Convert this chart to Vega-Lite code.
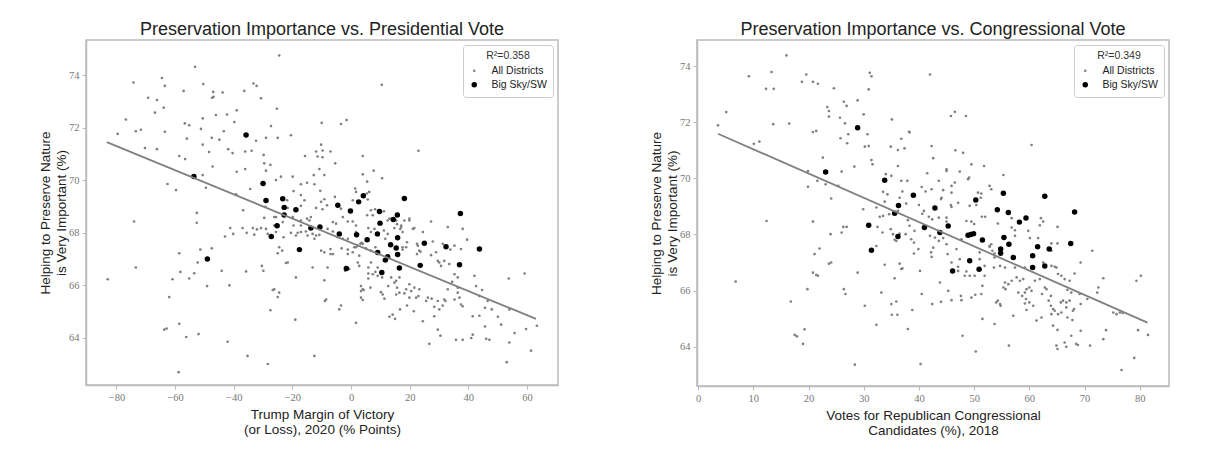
{
"$schema":"https://vega.github.io/schema/vega-lite/v6.json",
"background":"white",
"padding":{"left":37,"top":20,"right":5,"bottom":5},
"spacing":89,
"datasets":{
"pres":[
{"x":-24.5,"y":74.76,"g":"All Districts"},{"x":-53.2,"y":74.33,"g":"All Districts"},{"x":-74.2,"y":73.73,"g":"All Districts"},{"x":-64.5,"y":73.9,"g":"All Districts"},{"x":-63.5,"y":73.6,"g":"All Districts"},{"x":-50.4,"y":73.67,"g":"All Districts"},{"x":-33.3,"y":73.69,"g":"All Districts"},{"x":-32.2,"y":73.6,"g":"All Districts"},{"x":10.5,"y":73.64,"g":"All Districts"},{"x":-57.1,"y":73.41,"g":"All Districts"},{"x":-47,"y":73.37,"g":"All Districts"},{"x":-43.8,"y":73.35,"g":"All Districts"},{"x":-46.9,"y":73.18,"g":"All Districts"},{"x":-47.4,"y":73.15,"g":"All Districts"},{"x":-36.4,"y":73.41,"g":"All Districts"},{"x":-69.2,"y":73.15,"g":"All Districts"},{"x":-66.2,"y":73.06,"g":"All Districts"},{"x":-30.7,"y":73.13,"g":"All Districts"},{"x":-63.9,"y":72.77,"g":"All Districts"},{"x":-66.9,"y":72.58,"g":"All Districts"},{"x":-39,"y":72.67,"g":"All Districts"},{"x":-25.3,"y":72.73,"g":"All Districts"},{"x":-42.3,"y":72.51,"g":"All Districts"},{"x":-46.1,"y":72.49,"g":"All Districts"},{"x":-39.8,"y":72.22,"g":"All Districts"},{"x":-50.6,"y":72.36,"g":"All Districts"},{"x":-76.8,"y":72.32,"g":"All Districts"},{"x":-56.7,"y":72.17,"g":"All Districts"},{"x":-55.2,"y":72.1,"g":"All Districts"},{"x":-51.2,"y":71.96,"g":"All Districts"},{"x":-27.3,"y":72.07,"g":"All Districts"},{"x":-10,"y":72.19,"g":"All Districts"},{"x":-3.4,"y":72.15,"g":"All Districts"},{"x":-1.5,"y":72.3,"g":"All Districts"},{"x":-43.4,"y":71.87,"g":"All Districts"},{"x":-73.4,"y":71.87,"g":"All Districts"},{"x":-71.7,"y":71.93,"g":"All Districts"},{"x":-63.5,"y":71.85,"g":"All Districts"},{"x":-79.6,"y":71.77,"g":"All Districts"},{"x":-20.5,"y":71.72,"g":"All Districts"},{"x":-47.5,"y":71.62,"g":"All Districts"},{"x":-44.9,"y":71.55,"g":"All Districts"},{"x":-56,"y":71.59,"g":"All Districts"},{"x":-32.4,"y":71.51,"g":"All Districts"},{"x":-29,"y":71.62,"g":"All Districts"},{"x":-25,"y":71.62,"g":"All Districts"},{"x":-50.6,"y":71.36,"g":"All Districts"},{"x":-70.3,"y":71.23,"g":"All Districts"},{"x":-66.2,"y":71.19,"g":"All Districts"},{"x":-41.9,"y":71.19,"g":"All Districts"},{"x":-36.1,"y":71.1,"g":"All Districts"},{"x":-33.9,"y":71.13,"g":"All Districts"},{"x":-48.4,"y":71.08,"g":"All Districts"},{"x":-40.4,"y":71.04,"g":"All Districts"},{"x":-29.8,"y":70.97,"g":"All Districts"},{"x":-58.6,"y":70.93,"g":"All Districts"},{"x":-56.6,"y":70.81,"g":"All Districts"},{"x":23,"y":71.13,"g":"All Districts"},{"x":-10.2,"y":71.36,"g":"All Districts"},{"x":-11.9,"y":71.1,"g":"All Districts"},{"x":-9.7,"y":71.14,"g":"All Districts"},{"x":-7,"y":71.1,"g":"All Districts"},{"x":-11.4,"y":70.91,"g":"All Districts"},{"x":-9.7,"y":70.88,"g":"All Districts"},{"x":-15.7,"y":70.93,"g":"All Districts"},{"x":4,"y":70.93,"g":"All Districts"},{"x":-5.4,"y":70.65,"g":"All Districts"},{"x":-10.8,"y":70.43,"g":"All Districts"},{"x":-12.7,"y":70.2,"g":"All Districts"},{"x":-9.1,"y":70.2,"g":"All Districts"},{"x":4,"y":70.23,"g":"All Districts"},{"x":7.7,"y":70.37,"g":"All Districts"},{"x":10.6,"y":70.08,"g":"All Districts"},{"x":-15,"y":69.91,"g":"All Districts"},{"x":-12.5,"y":69.85,"g":"All Districts"},{"x":5.5,"y":69.95,"g":"All Districts"},{"x":-19.9,"y":70.14,"g":"All Districts"},{"x":-23.9,"y":70.14,"g":"All Districts"},{"x":-29.6,"y":70.65,"g":"All Districts"},{"x":-27.5,"y":70.59,"g":"All Districts"},{"x":-47.2,"y":70.53,"g":"All Districts"},{"x":-36.1,"y":70.43,"g":"All Districts"},{"x":-39,"y":70.33,"g":"All Districts"},{"x":-29,"y":70.37,"g":"All Districts"},{"x":-25.6,"y":70.01,"g":"All Districts"},{"x":-50.6,"y":70.2,"g":"All Districts"},{"x":-62.6,"y":69.86,"g":"All Districts"},{"x":-59.7,"y":69.63,"g":"All Districts"},{"x":-49.5,"y":69.72,"g":"All Districts"},{"x":-34.4,"y":69.67,"g":"All Districts"},{"x":-39.2,"y":69.47,"g":"All Districts"},{"x":-19.6,"y":69.59,"g":"All Districts"},{"x":-10.5,"y":69.6,"g":"All Districts"},{"x":1.4,"y":69.69,"g":"All Districts"},{"x":-17.1,"y":69.44,"g":"All Districts"},{"x":-21.8,"y":69.24,"g":"All Districts"},{"x":-5.5,"y":69.37,"g":"All Districts"},{"x":0.6,"y":69.24,"g":"All Districts"},{"x":6.2,"y":69.56,"g":"All Districts"},{"x":5.4,"y":69.5,"g":"All Districts"},{"x":-15.9,"y":69.24,"g":"All Districts"},{"x":-10.2,"y":69.18,"g":"All Districts"},{"x":-9.1,"y":69.28,"g":"All Districts"},{"x":-11.9,"y":68.95,"g":"All Districts"},{"x":-9.7,"y":68.9,"g":"All Districts"},{"x":-17.1,"y":69.03,"g":"All Districts"},{"x":-21.6,"y":68.95,"g":"All Districts"},{"x":6.8,"y":68.86,"g":"All Districts"},{"x":8.2,"y":68.9,"g":"All Districts"},{"x":5.5,"y":68.67,"g":"All Districts"},{"x":13.1,"y":68.54,"g":"All Districts"},{"x":15.4,"y":68.47,"g":"All Districts"},{"x":19.9,"y":68.54,"g":"All Districts"},{"x":27.3,"y":68.43,"g":"All Districts"},{"x":-2.8,"y":68.6,"g":"All Districts"},{"x":-1.1,"y":68.43,"g":"All Districts"},{"x":0.6,"y":68.43,"g":"All Districts"},{"x":1.7,"y":68.28,"g":"All Districts"},{"x":-15,"y":68.54,"g":"All Districts"},{"x":-13.7,"y":68.6,"g":"All Districts"},{"x":-6.2,"y":68.41,"g":"All Districts"},{"x":-5.1,"y":68.35,"g":"All Districts"},{"x":17.1,"y":68.28,"g":"All Districts"},{"x":21.6,"y":68.18,"g":"All Districts"},{"x":-52.6,"y":68.76,"g":"All Districts"},{"x":-36.8,"y":68.86,"g":"All Districts"},{"x":-29.2,"y":68.99,"g":"All Districts"},{"x":-26.2,"y":68.6,"g":"All Districts"},{"x":-74,"y":68.43,"g":"All Districts"},{"x":-52.6,"y":68.38,"g":"All Districts"},{"x":-41.2,"y":68.18,"g":"All Districts"},{"x":-37,"y":68.18,"g":"All Districts"},{"x":-33.5,"y":68.18,"g":"All Districts"},{"x":-32.1,"y":68.13,"g":"All Districts"},{"x":-19.6,"y":68.28,"g":"All Districts"},{"x":-43,"y":67.86,"g":"All Districts"},{"x":-40.2,"y":67.96,"g":"All Districts"},{"x":-35.6,"y":68.0,"g":"All Districts"},{"x":-33,"y":67.93,"g":"All Districts"},{"x":-23.3,"y":68.41,"g":"All Districts"},{"x":-25.6,"y":68.03,"g":"All Districts"},{"x":-28.4,"y":67.96,"g":"All Districts"},{"x":-23,"y":67.83,"g":"All Districts"},{"x":-20.5,"y":68.0,"g":"All Districts"},{"x":-18.2,"y":68.0,"g":"All Districts"},{"x":-58.6,"y":67.22,"g":"All Districts"},{"x":-51.4,"y":67.36,"g":"All Districts"},{"x":-47.5,"y":67.41,"g":"All Districts"},{"x":-52.3,"y":66.87,"g":"All Districts"},{"x":-73.4,"y":66.68,"g":"All Districts"},{"x":-58.2,"y":66.51,"g":"All Districts"},{"x":-53.5,"y":66.46,"g":"All Districts"},{"x":-55.2,"y":66.26,"g":"All Districts"},{"x":-60.9,"y":66.23,"g":"All Districts"},{"x":-83,"y":66.23,"g":"All Districts"},{"x":-44.1,"y":66.55,"g":"All Districts"},{"x":-35.8,"y":66.53,"g":"All Districts"},{"x":-30.4,"y":66.74,"g":"All Districts"},{"x":-29.9,"y":66.55,"g":"All Districts"},{"x":-25,"y":67.22,"g":"All Districts"},{"x":-23.5,"y":67.32,"g":"All Districts"},{"x":-22.2,"y":66.85,"g":"All Districts"},{"x":-21.6,"y":66.87,"g":"All Districts"},{"x":-18.8,"y":66.3,"g":"All Districts"},{"x":-49.1,"y":65.97,"g":"All Districts"},{"x":-41.5,"y":66.0,"g":"All Districts"},{"x":-26.7,"y":65.82,"g":"All Districts"},{"x":-26.2,"y":65.85,"g":"All Districts"},{"x":-24.5,"y":65.72,"g":"All Districts"},{"x":-25,"y":65.55,"g":"All Districts"},{"x":-62,"y":65.55,"g":"All Districts"},{"x":-27.5,"y":65.05,"g":"All Districts"},{"x":-19,"y":64.69,"g":"All Districts"},{"x":-63.7,"y":64.31,"g":"All Districts"},{"x":-62.9,"y":64.35,"g":"All Districts"},{"x":-58.6,"y":64.53,"g":"All Districts"},{"x":-56.2,"y":64.03,"g":"All Districts"},{"x":-52,"y":64.14,"g":"All Districts"},{"x":-42.1,"y":63.85,"g":"All Districts"},{"x":-35.3,"y":63.31,"g":"All Districts"},{"x":-28.4,"y":63.0,"g":"All Districts"},{"x":-58.8,"y":62.69,"g":"All Districts"},
{"x":-17.1,"y":68.28,"g":"All Districts"},{"x":-14.2,"y":68.47,"g":"All Districts"},{"x":-15.4,"y":68.05,"g":"All Districts"},{"x":-14.8,"y":67.9,"g":"All Districts"},{"x":-8,"y":68.15,"g":"All Districts"},{"x":-6.2,"y":68.05,"g":"All Districts"},{"x":-4.5,"y":67.83,"g":"All Districts"},{"x":-2.8,"y":67.77,"g":"All Districts"},{"x":-1.1,"y":67.77,"g":"All Districts"},{"x":1.7,"y":68.03,"g":"All Districts"},{"x":-7,"y":67.38,"g":"All Districts"},{"x":-7,"y":67.19,"g":"All Districts"},{"x":-3.2,"y":67.41,"g":"All Districts"},{"x":-1.1,"y":67.36,"g":"All Districts"},{"x":0.6,"y":67.26,"g":"All Districts"},{"x":1.7,"y":67.45,"g":"All Districts"},{"x":3.2,"y":67.58,"g":"All Districts"},{"x":3.6,"y":67.62,"g":"All Districts"},{"x":4,"y":67.58,"g":"All Districts"},{"x":5.9,"y":68.18,"g":"All Districts"},{"x":6.8,"y":68.03,"g":"All Districts"},{"x":8,"y":68.15,"g":"All Districts"},{"x":11.2,"y":68.09,"g":"All Districts"},{"x":12.5,"y":67.96,"g":"All Districts"},{"x":11.7,"y":67.77,"g":"All Districts"},{"x":17.1,"y":68.22,"g":"All Districts"},{"x":17.6,"y":68.03,"g":"All Districts"},{"x":19.1,"y":67.64,"g":"All Districts"},{"x":18.8,"y":67.45,"g":"All Districts"},{"x":19.9,"y":68.47,"g":"All Districts"},{"x":21.1,"y":68.15,"g":"All Districts"},{"x":22.5,"y":67.58,"g":"All Districts"},{"x":23.3,"y":67.32,"g":"All Districts"},{"x":23.7,"y":67.28,"g":"All Districts"},{"x":27.3,"y":67.15,"g":"All Districts"},{"x":29,"y":67.26,"g":"All Districts"},{"x":30.1,"y":66.87,"g":"All Districts"},{"x":31.8,"y":66.93,"g":"All Districts"},{"x":31.3,"y":67.58,"g":"All Districts"},{"x":35.3,"y":67.51,"g":"All Districts"},{"x":37.5,"y":67.38,"g":"All Districts"},{"x":33.5,"y":66.81,"g":"All Districts"},{"x":35.3,"y":66.42,"g":"All Districts"},{"x":34.5,"y":66.13,"g":"All Districts"},{"x":33,"y":65.85,"g":"All Districts"},{"x":36.4,"y":66.3,"g":"All Districts"},{"x":36.4,"y":65.91,"g":"All Districts"},{"x":36.4,"y":65.72,"g":"All Districts"},{"x":37.5,"y":65.27,"g":"All Districts"},{"x":38.1,"y":65.2,"g":"All Districts"},{"x":37,"y":65.53,"g":"All Districts"},{"x":35.3,"y":65.46,"g":"All Districts"},{"x":42.1,"y":66.36,"g":"All Districts"},{"x":42.7,"y":65.97,"g":"All Districts"},{"x":44.7,"y":65.82,"g":"All Districts"},{"x":43.8,"y":65.59,"g":"All Districts"},{"x":46.6,"y":65.4,"g":"All Districts"},{"x":45.7,"y":65.14,"g":"All Districts"},{"x":48,"y":65.08,"g":"All Districts"},{"x":41.5,"y":64.82,"g":"All Districts"},{"x":43.8,"y":64.84,"g":"All Districts"},{"x":50.1,"y":64.8,"g":"All Districts"},{"x":41.5,"y":64.12,"g":"All Districts"},{"x":41,"y":63.99,"g":"All Districts"},{"x":45.7,"y":64.43,"g":"All Districts"},{"x":47.2,"y":63.92,"g":"All Districts"},{"x":46.1,"y":63.96,"g":"All Districts"},{"x":38.1,"y":63.92,"g":"All Districts"},{"x":35.8,"y":63.92,"g":"All Districts"},{"x":51.2,"y":64.5,"g":"All Districts"},{"x":54,"y":65.08,"g":"All Districts"},{"x":55.8,"y":64.18,"g":"All Districts"},{"x":59.7,"y":64.33,"g":"All Districts"},{"x":53.8,"y":66.26,"g":"All Districts"},{"x":59.2,"y":66.45,"g":"All Districts"},{"x":54,"y":63.82,"g":"All Districts"},{"x":61.4,"y":63.51,"g":"All Districts"},{"x":53.1,"y":63.07,"g":"All Districts"},{"x":63.4,"y":64.46,"g":"All Districts"},{"x":29.6,"y":64.31,"g":"All Districts"},{"x":30.5,"y":64.08,"g":"All Districts"},{"x":26.7,"y":63.77,"g":"All Districts"},{"x":24.5,"y":64.63,"g":"All Districts"},{"x":28.4,"y":64.82,"g":"All Districts"},{"x":32.2,"y":65.4,"g":"All Districts"},{"x":31.3,"y":65.23,"g":"All Districts"},{"x":29.6,"y":65.4,"g":"All Districts"},{"x":30.1,"y":65.08,"g":"All Districts"},{"x":28.4,"y":65.18,"g":"All Districts"},{"x":31.8,"y":65.46,"g":"All Districts"},{"x":27.5,"y":65.49,"g":"All Districts"},{"x":25.6,"y":65.4,"g":"All Districts"},{"x":26.2,"y":65.53,"g":"All Districts"},{"x":23.3,"y":65.85,"g":"All Districts"},{"x":23,"y":65.59,"g":"All Districts"},{"x":19.9,"y":66.04,"g":"All Districts"},{"x":20.5,"y":65.78,"g":"All Districts"},{"x":22.2,"y":65.53,"g":"All Districts"},{"x":21.6,"y":65.91,"g":"All Districts"},{"x":19.1,"y":65.23,"g":"All Districts"},{"x":21.4,"y":65.01,"g":"All Districts"},{"x":16.7,"y":65.08,"g":"All Districts"},{"x":14.2,"y":64.88,"g":"All Districts"},{"x":15,"y":64.72,"g":"All Districts"},{"x":13.1,"y":64.8,"g":"All Districts"},{"x":18.8,"y":65.85,"g":"All Districts"},{"x":18.2,"y":65.69,"g":"All Districts"},{"x":19.9,"y":65.53,"g":"All Districts"},{"x":14.8,"y":66.1,"g":"All Districts"},{"x":15.7,"y":65.91,"g":"All Districts"},{"x":16.5,"y":65.72,"g":"All Districts"},{"x":15.4,"y":65.65,"g":"All Districts"},{"x":10.2,"y":65.74,"g":"All Districts"},{"x":10.8,"y":65.65,"g":"All Districts"},{"x":11.4,"y":65.49,"g":"All Districts"},{"x":12.7,"y":65.97,"g":"All Districts"},{"x":13.7,"y":66.3,"g":"All Districts"},{"x":15.4,"y":66.17,"g":"All Districts"},{"x":16.5,"y":66.3,"g":"All Districts"},{"x":8.3,"y":66.51,"g":"All Districts"},{"x":9.1,"y":66.36,"g":"All Districts"},{"x":7.4,"y":66.42,"g":"All Districts"},{"x":10.6,"y":66.3,"g":"All Districts"},{"x":5.9,"y":66.45,"g":"All Districts"},{"x":5.9,"y":66.26,"g":"All Districts"},{"x":3.4,"y":65.97,"g":"All Districts"},{"x":4,"y":65.85,"g":"All Districts"},{"x":3.4,"y":65.78,"g":"All Districts"},{"x":3.4,"y":65.53,"g":"All Districts"},{"x":4,"y":65.44,"g":"All Districts"},{"x":6.6,"y":65.91,"g":"All Districts"},{"x":4.3,"y":65.82,"g":"All Districts"},{"x":1.7,"y":64.57,"g":"All Districts"},{"x":-8.5,"y":65.46,"g":"All Districts"},{"x":-8.9,"y":65.4,"g":"All Districts"},{"x":-4,"y":65.08,"g":"All Districts"},{"x":-3.4,"y":65.23,"g":"All Districts"},{"x":-9.1,"y":66.19,"g":"All Districts"},{"x":-13.1,"y":66.68,"g":"All Districts"},{"x":-12.5,"y":63.31,"g":"All Districts"},{"x":-2,"y":66.55,"g":"All Districts"},{"x":-0.6,"y":66.62,"g":"All Districts"},{"x":2.3,"y":66.87,"g":"All Districts"},{"x":2.8,"y":66.74,"g":"All Districts"},{"x":5.9,"y":66.68,"g":"All Districts"},{"x":6.8,"y":66.87,"g":"All Districts"},{"x":-9.1,"y":67.26,"g":"All Districts"},{"x":-10.2,"y":67.32,"g":"All Districts"},{"x":-12.5,"y":67.77,"g":"All Districts"},{"x":-10.8,"y":67.92,"g":"All Districts"},{"x":33,"y":68.22,"g":"All Districts"},{"x":38.1,"y":68.15,"g":"All Districts"},{"x":39.6,"y":67.74,"g":"All Districts"},
{"x":-17.1,"y":69.85,"g":"All Districts"},{"x":-8.2,"y":69.05,"g":"All Districts"},{"x":-3.4,"y":68.92,"g":"All Districts"},{"x":1.7,"y":69.56,"g":"All Districts"},{"x":5.7,"y":69.27,"g":"All Districts"},{"x":7.4,"y":68.67,"g":"All Districts"},{"x":11.2,"y":68.82,"g":"All Districts"},{"x":12.5,"y":68.47,"g":"All Districts"},{"x":14.8,"y":68.18,"g":"All Districts"},{"x":18.2,"y":68.47,"g":"All Districts"},{"x":16.8,"y":68.15,"g":"All Districts"},{"x":15.7,"y":68.33,"g":"All Districts"},{"x":24.5,"y":68.03,"g":"All Districts"},{"x":22.8,"y":67.51,"g":"All Districts"},{"x":22.5,"y":67.19,"g":"All Districts"},{"x":17.6,"y":67.45,"g":"All Districts"},{"x":17.6,"y":67.36,"g":"All Districts"},{"x":27.9,"y":67.67,"g":"All Districts"},{"x":33.9,"y":67.36,"g":"All Districts"},{"x":29.6,"y":66.93,"g":"All Districts"},{"x":30.7,"y":66.74,"g":"All Districts"},{"x":2.3,"y":67.51,"g":"All Districts"},{"x":1.1,"y":67.45,"g":"All Districts"},{"x":2.8,"y":67.13,"g":"All Districts"},{"x":-6.2,"y":67.19,"g":"All Districts"},{"x":-1.1,"y":67.19,"g":"All Districts"},{"x":5.1,"y":67.41,"g":"All Districts"},{"x":6.8,"y":67.32,"g":"All Districts"},{"x":8.3,"y":67.45,"g":"All Districts"},{"x":-8,"y":66.68,"g":"All Districts"},{"x":9.1,"y":66.68,"g":"All Districts"},{"x":-24.5,"y":67.45,"g":"All Districts"},{"x":-29.6,"y":68.57,"g":"All Districts"},{"x":-25.6,"y":68.6,"g":"All Districts"},{"x":-26.2,"y":68.28,"g":"All Districts"},{"x":-29,"y":68.15,"g":"All Districts"},{"x":-30.7,"y":68.18,"g":"All Districts"},{"x":-18.8,"y":67.9,"g":"All Districts"},{"x":-17.1,"y":68.03,"g":"All Districts"},{"x":-13.1,"y":67.96,"g":"All Districts"},{"x":-11.9,"y":67.9,"g":"All Districts"},{"x":-19.9,"y":68.6,"g":"All Districts"},{"x":-17.1,"y":68.47,"g":"All Districts"},
{"x":-53.6,"y":70.15,"g":"Big Sky/SW"},{"x":-49,"y":67.0,"g":"Big Sky/SW"},{"x":-35.8,"y":71.73,"g":"Big Sky/SW"},{"x":-30,"y":69.88,"g":"Big Sky/SW"},{"x":-29,"y":69.23,"g":"Big Sky/SW"},{"x":-27.2,"y":67.86,"g":"Big Sky/SW"},{"x":-25.2,"y":68.27,"g":"Big Sky/SW"},{"x":-23.3,"y":69.3,"g":"Big Sky/SW"},{"x":-22.8,"y":68.97,"g":"Big Sky/SW"},{"x":-22.8,"y":68.68,"g":"Big Sky/SW"},{"x":-18.8,"y":68.88,"g":"Big Sky/SW"},{"x":-17.6,"y":67.36,"g":"Big Sky/SW"},{"x":-13.7,"y":68.18,"g":"Big Sky/SW"},{"x":-10.6,"y":68.22,"g":"Big Sky/SW"},{"x":-4.5,"y":69.05,"g":"Big Sky/SW"},{"x":-4,"y":67.96,"g":"Big Sky/SW"},{"x":-1.6,"y":66.64,"g":"Big Sky/SW"},{"x":-0.2,"y":68.83,"g":"Big Sky/SW"},{"x":1.9,"y":67.93,"g":"Big Sky/SW"},{"x":2.6,"y":69.18,"g":"Big Sky/SW"},{"x":4.2,"y":69.41,"g":"Big Sky/SW"},{"x":5.5,"y":67.74,"g":"Big Sky/SW"},{"x":9,"y":67.96,"g":"Big Sky/SW"},{"x":9.1,"y":67.25,"g":"Big Sky/SW"},{"x":9.7,"y":68.81,"g":"Big Sky/SW"},{"x":9.9,"y":68.37,"g":"Big Sky/SW"},{"x":10.5,"y":66.49,"g":"Big Sky/SW"},{"x":11.7,"y":66.96,"g":"Big Sky/SW"},{"x":12.5,"y":67.09,"g":"Big Sky/SW"},{"x":13.5,"y":67.55,"g":"Big Sky/SW"},{"x":14.4,"y":68.51,"g":"Big Sky/SW"},{"x":15.4,"y":67.42,"g":"Big Sky/SW"},{"x":15.8,"y":68.68,"g":"Big Sky/SW"},{"x":15.9,"y":67.81,"g":"Big Sky/SW"},{"x":15.9,"y":67.17,"g":"Big Sky/SW"},{"x":16.5,"y":66.66,"g":"Big Sky/SW"},{"x":18.2,"y":69.31,"g":"Big Sky/SW"},{"x":23.6,"y":66.76,"g":"Big Sky/SW"},{"x":25,"y":67.6,"g":"Big Sky/SW"},{"x":32.4,"y":67.47,"g":"Big Sky/SW"},{"x":37,"y":66.78,"g":"Big Sky/SW"},{"x":37.3,"y":68.74,"g":"Big Sky/SW"},{"x":43.8,"y":67.38,"g":"Big Sky/SW"}
],
"presLine":[{"x":-83.3,"y":71.46},{"x":63.1,"y":64.72}],
"cong":[
{"x":16,"y":74.38,"g":"All Districts"},{"x":9.2,"y":73.64,"g":"All Districts"},{"x":13.3,"y":73.79,"g":"All Districts"},{"x":12.3,"y":73.19,"g":"All Districts"},{"x":13.7,"y":73.19,"g":"All Districts"},{"x":18.8,"y":73.44,"g":"All Districts"},{"x":19.6,"y":73.7,"g":"All Districts"},{"x":20.8,"y":73.44,"g":"All Districts"},{"x":21.7,"y":73.37,"g":"All Districts"},{"x":24.6,"y":73.21,"g":"All Districts"},{"x":31.1,"y":73.76,"g":"All Districts"},{"x":31.4,"y":73.64,"g":"All Districts"},{"x":30.9,"y":73.17,"g":"All Districts"},{"x":28.9,"y":72.78,"g":"All Districts"},{"x":26.4,"y":72.73,"g":"All Districts"},{"x":26.9,"y":72.58,"g":"All Districts"},{"x":23.4,"y":72.54,"g":"All Districts"},{"x":23.7,"y":72.4,"g":"All Districts"},{"x":23.7,"y":72.2,"g":"All Districts"},{"x":30,"y":72.28,"g":"All Districts"},{"x":25.7,"y":72.16,"g":"All Districts"},{"x":3.6,"y":71.89,"g":"All Districts"},{"x":5.1,"y":72.36,"g":"All Districts"},{"x":13.6,"y":71.93,"g":"All Districts"},{"x":16.5,"y":71.95,"g":"All Districts"},{"x":26.6,"y":71.96,"g":"All Districts"},{"x":20.8,"y":71.65,"g":"All Districts"},{"x":21.4,"y":71.69,"g":"All Districts"},{"x":30.7,"y":71.57,"g":"All Districts"},{"x":25.8,"y":71.43,"g":"All Districts"},{"x":27,"y":71.25,"g":"All Districts"},{"x":30.2,"y":71.13,"g":"All Districts"},{"x":30.9,"y":71.15,"g":"All Districts"},{"x":34.9,"y":71.13,"g":"All Districts"},{"x":35.1,"y":72.1,"g":"All Districts"},{"x":36.8,"y":71.41,"g":"All Districts"},{"x":10.1,"y":71.23,"g":"All Districts"},{"x":11.1,"y":71.31,"g":"All Districts"},{"x":22.6,"y":70.74,"g":"All Districts"},{"x":31.4,"y":70.65,"g":"All Districts"},{"x":31.6,"y":70.5,"g":"All Districts"},{"x":28.3,"y":70.42,"g":"All Districts"},{"x":19.9,"y":70.26,"g":"All Districts"},{"x":26,"y":70.24,"g":"All Districts"},{"x":21.6,"y":69.91,"g":"All Districts"},{"x":23.1,"y":69.79,"g":"All Districts"},{"x":19.9,"y":69.7,"g":"All Districts"},{"x":25.4,"y":69.73,"g":"All Districts"},{"x":34,"y":70.15,"g":"All Districts"},{"x":35,"y":70.09,"g":"All Districts"},{"x":24.1,"y":69.28,"g":"All Districts"},{"x":33.5,"y":69.52,"g":"All Districts"},{"x":34.3,"y":69.43,"g":"All Districts"},{"x":36.8,"y":69.91,"g":"All Districts"},{"x":29.9,"y":68.9,"g":"All Districts"},{"x":32.3,"y":68.96,"g":"All Districts"},{"x":34.6,"y":68.72,"g":"All Districts"},{"x":36.5,"y":69.31,"g":"All Districts"},{"x":37,"y":69.53,"g":"All Districts"},{"x":12.4,"y":68.48,"g":"All Districts"},{"x":20.8,"y":68.46,"g":"All Districts"},{"x":26.3,"y":68.27,"g":"All Districts"},{"x":26.9,"y":68.27,"g":"All Districts"},{"x":32.5,"y":68.27,"g":"All Districts"},{"x":34.9,"y":68.19,"g":"All Districts"},{"x":33.4,"y":68.07,"g":"All Districts"},{"x":35.3,"y":68.01,"g":"All Districts"},{"x":35.6,"y":67.81,"g":"All Districts"},{"x":36.5,"y":68.03,"g":"All Districts"},{"x":24,"y":68.01,"g":"All Districts"},{"x":26,"y":68.07,"g":"All Districts"},{"x":21.1,"y":67.3,"g":"All Districts"},{"x":22,"y":67.5,"g":"All Districts"},{"x":23.7,"y":66.96,"g":"All Districts"},{"x":28.9,"y":66.64,"g":"All Districts"},{"x":33.8,"y":66.92,"g":"All Districts"},{"x":36.5,"y":66.96,"g":"All Districts"},{"x":37,"y":66.79,"g":"All Districts"},{"x":20.8,"y":66.64,"g":"All Districts"},{"x":21.4,"y":66.56,"g":"All Districts"},{"x":21.7,"y":66.53,"g":"All Districts"},{"x":26.4,"y":66.05,"g":"All Districts"},{"x":26.7,"y":65.88,"g":"All Districts"},{"x":19.8,"y":66.05,"g":"All Districts"},{"x":33.2,"y":65.93,"g":"All Districts"},{"x":35.6,"y":66.44,"g":"All Districts"},{"x":16.8,"y":65.61,"g":"All Districts"},{"x":35.9,"y":65.61,"g":"All Districts"},{"x":35,"y":65.52,"g":"All Districts"},{"x":30.2,"y":65.46,"g":"All Districts"},{"x":35.1,"y":65.14,"g":"All Districts"},{"x":36.1,"y":65.14,"g":"All Districts"},{"x":17.5,"y":64.42,"g":"All Districts"},{"x":17.9,"y":64.37,"g":"All Districts"},{"x":19.3,"y":64.62,"g":"All Districts"},{"x":19,"y":64.1,"g":"All Districts"},{"x":32.3,"y":64.78,"g":"All Districts"},{"x":38,"y":64.63,"g":"All Districts"},{"x":6.8,"y":66.32,"g":"All Districts"},{"x":28.4,"y":63.36,"g":"All Districts"},{"x":27.2,"y":71.57,"g":"All Districts"},{"x":36.2,"y":71.01,"g":"All Districts"},{"x":37.4,"y":71.07,"g":"All Districts"},{"x":38.3,"y":71.64,"g":"All Districts"},{"x":42.3,"y":71.15,"g":"All Districts"},{"x":42.6,"y":70.72,"g":"All Districts"},{"x":46.6,"y":71.0,"g":"All Districts"},{"x":48,"y":70.91,"g":"All Districts"},{"x":49.5,"y":70.5,"g":"All Districts"},{"x":51.8,"y":70.44,"g":"All Districts"},{"x":60.4,"y":71.19,"g":"All Districts"},{"x":45,"y":70.26,"g":"All Districts"},{"x":47.4,"y":70.24,"g":"All Districts"},{"x":41.5,"y":70.18,"g":"All Districts"},{"x":36.2,"y":70.44,"g":"All Districts"},{"x":37.9,"y":69.91,"g":"All Districts"},{"x":43.6,"y":69.91,"g":"All Districts"},{"x":46.5,"y":69.85,"g":"All Districts"},{"x":48.9,"y":69.97,"g":"All Districts"},{"x":53.1,"y":69.61,"g":"All Districts"},{"x":52.8,"y":69.73,"g":"All Districts"},{"x":55.3,"y":70.12,"g":"All Districts"},{"x":50.7,"y":69.49,"g":"All Districts"},{"x":51.3,"y":69.46,"g":"All Districts"},{"x":51.2,"y":69.31,"g":"All Districts"},{"x":45.9,"y":69.73,"g":"All Districts"},{"x":44.4,"y":69.58,"g":"All Districts"},{"x":40.5,"y":69.69,"g":"All Districts"},{"x":41.2,"y":69.53,"g":"All Districts"},{"x":42.3,"y":69.61,"g":"All Districts"},{"x":33.8,"y":69.17,"g":"All Districts"},{"x":37.7,"y":69.1,"g":"All Districts"},{"x":36.2,"y":68.84,"g":"All Districts"},{"x":40,"y":69.05,"g":"All Districts"},{"x":40.9,"y":68.84,"g":"All Districts"},{"x":40.6,"y":68.74,"g":"All Districts"},{"x":44.1,"y":69.31,"g":"All Districts"},{"x":44,"y":69.26,"g":"All Districts"},{"x":45.8,"y":69.05,"g":"All Districts"},{"x":47.1,"y":69.13,"g":"All Districts"},{"x":32.9,"y":68.63,"g":"All Districts"},{"x":33.5,"y":68.66,"g":"All Districts"},{"x":38,"y":68.51,"g":"All Districts"},{"x":41.8,"y":68.63,"g":"All Districts"},{"x":42.4,"y":68.54,"g":"All Districts"},{"x":43.6,"y":68.6,"g":"All Districts"},{"x":45,"y":68.6,"g":"All Districts"},{"x":45,"y":68.46,"g":"All Districts"},{"x":48.6,"y":68.48,"g":"All Districts"},{"x":49.5,"y":68.46,"g":"All Districts"},{"x":50,"y":68.37,"g":"All Districts"},{"x":51.4,"y":68.63,"g":"All Districts"},{"x":52,"y":68.63,"g":"All Districts"},{"x":54.3,"y":68.39,"g":"All Districts"},{"x":56.8,"y":68.58,"g":"All Districts"},{"x":62.1,"y":68.58,"g":"All Districts"},{"x":62.5,"y":68.46,"g":"All Districts"},{"x":61.9,"y":68.33,"g":"All Districts"},{"x":57.4,"y":68.15,"g":"All Districts"},{"x":59.8,"y":68.13,"g":"All Districts"},{"x":65.1,"y":68.27,"g":"All Districts"},{"x":38.3,"y":68.31,"g":"All Districts"},{"x":39.2,"y":68.13,"g":"All Districts"},{"x":37.6,"y":68.01,"g":"All Districts"},{"x":42,"y":67.95,"g":"All Districts"},{"x":42.9,"y":67.89,"g":"All Districts"},{"x":43.6,"y":67.77,"g":"All Districts"},{"x":44.4,"y":67.87,"g":"All Districts"},{"x":39.1,"y":67.71,"g":"All Districts"},{"x":39.9,"y":67.48,"g":"All Districts"},{"x":42.6,"y":67.53,"g":"All Districts"},{"x":42.3,"y":67.2,"g":"All Districts"},{"x":42.2,"y":67.36,"g":"All Districts"},{"x":45,"y":67.65,"g":"All Districts"},{"x":46.8,"y":67.48,"g":"All Districts"},{"x":45.2,"y":67.3,"g":"All Districts"},{"x":47.7,"y":67.83,"g":"All Districts"},{"x":51,"y":67.36,"g":"All Districts"},{"x":51,"y":67.12,"g":"All Districts"},{"x":52.8,"y":67.59,"g":"All Districts"},{"x":53.1,"y":67.65,"g":"All Districts"},{"x":53.3,"y":67.42,"g":"All Districts"},{"x":53.7,"y":67.32,"g":"All Districts"},{"x":60.1,"y":67.87,"g":"All Districts"},{"x":61.6,"y":67.87,"g":"All Districts"},{"x":64,"y":67.68,"g":"All Districts"},{"x":65.1,"y":67.68,"g":"All Districts"},{"x":64,"y":67.42,"g":"All Districts"},{"x":62.5,"y":67.0,"g":"All Districts"},{"x":64.6,"y":66.85,"g":"All Districts"},{"x":57.4,"y":66.82,"g":"All Districts"},{"x":59.2,"y":66.82,"g":"All Districts"},{"x":55.6,"y":66.82,"g":"All Districts"},{"x":54.7,"y":66.88,"g":"All Districts"},{"x":47.4,"y":67.12,"g":"All Districts"},{"x":47.1,"y":66.85,"g":"All Districts"},{"x":36.8,"y":66.77,"g":"All Districts"},{"x":39.1,"y":67.32,"g":"All Districts"},{"x":35.9,"y":67.77,"g":"All Districts"},{"x":36.2,"y":67.89,"g":"All Districts"},{"x":32.3,"y":67.59,"g":"All Districts"},{"x":24.1,"y":67.0,"g":"All Districts"},{"x":38.6,"y":67.83,"g":"All Districts"},{"x":40.2,"y":66.7,"g":"All Districts"},{"x":40.5,"y":65.88,"g":"All Districts"},{"x":38.8,"y":65.31,"g":"All Districts"},{"x":40.3,"y":63.38,"g":"All Districts"},{"x":43.8,"y":66.29,"g":"All Districts"},{"x":42.4,"y":65.52,"g":"All Districts"},{"x":44,"y":65.6,"g":"All Districts"},{"x":45.3,"y":65.99,"g":"All Districts"},{"x":45.9,"y":65.66,"g":"All Districts"},{"x":47.6,"y":65.81,"g":"All Districts"},{"x":47.7,"y":65.66,"g":"All Districts"},{"x":45.9,"y":67.0,"g":"All Districts"},{"x":47.1,"y":66.7,"g":"All Districts"},{"x":48.3,"y":66.53,"g":"All Districts"},{"x":48.6,"y":66.68,"g":"All Districts"},{"x":49.2,"y":66.53,"g":"All Districts"},{"x":50.1,"y":66.53,"g":"All Districts"},{"x":49.5,"y":65.75,"g":"All Districts"},{"x":50.2,"y":65.85,"g":"All Districts"},{"x":51.3,"y":65.88,"g":"All Districts"},{"x":51.5,"y":66.17,"g":"All Districts"},{"x":47.9,"y":64.39,"g":"All Districts"},{"x":51.5,"y":64.99,"g":"All Districts"},{"x":50.3,"y":63.83,"g":"All Districts"},{"x":51.9,"y":66.53,"g":"All Districts"},{"x":51.9,"y":66.88,"g":"All Districts"},{"x":52.8,"y":67.56,"g":"All Districts"},{"x":53.6,"y":66.82,"g":"All Districts"},{"x":53.7,"y":67.18,"g":"All Districts"},{"x":53.7,"y":64.81,"g":"All Districts"},{"x":54.3,"y":65.64,"g":"All Districts"},{"x":54,"y":65.58,"g":"All Districts"},{"x":54.7,"y":65.52,"g":"All Districts"},{"x":54.8,"y":65.46,"g":"All Districts"},{"x":55.3,"y":66.11,"g":"All Districts"},{"x":55.7,"y":66.05,"g":"All Districts"},{"x":56.2,"y":66.23,"g":"All Districts"},{"x":55.6,"y":66.29,"g":"All Districts"},{"x":56.8,"y":66.35,"g":"All Districts"},{"x":56.8,"y":68.25,"g":"All Districts"},{"x":57.4,"y":67.95,"g":"All Districts"},{"x":57.1,"y":65.1,"g":"All Districts"},{"x":56.3,"y":64.04,"g":"All Districts"},{"x":57.7,"y":66.47,"g":"All Districts"},{"x":58.3,"y":66.35,"g":"All Districts"},{"x":58.9,"y":66.41,"g":"All Districts"},{"x":58,"y":65.93,"g":"All Districts"},{"x":58.7,"y":65.81,"g":"All Districts"},{"x":59.2,"y":65.93,"g":"All Districts"},{"x":59.5,"y":66.05,"g":"All Districts"},{"x":59.4,"y":65.7,"g":"All Districts"},{"x":59.2,"y":65.54,"g":"All Districts"},{"x":59.5,"y":65.31,"g":"All Districts"},{"x":60,"y":66.11,"g":"All Districts"},{"x":60.4,"y":65.99,"g":"All Districts"},{"x":60,"y":65.58,"g":"All Districts"},{"x":60.7,"y":65.46,"g":"All Districts"},{"x":61.3,"y":64.93,"g":"All Districts"},{"x":62.2,"y":65.04,"g":"All Districts"},{"x":61,"y":66.35,"g":"All Districts"},{"x":61.9,"y":66.41,"g":"All Districts"},{"x":62.8,"y":66.11,"g":"All Districts"},{"x":62.3,"y":65.88,"g":"All Districts"},{"x":63.5,"y":65.64,"g":"All Districts"},{"x":63.9,"y":65.46,"g":"All Districts"},{"x":64.3,"y":65.34,"g":"All Districts"},{"x":64,"y":65.16,"g":"All Districts"},{"x":64.6,"y":65.28,"g":"All Districts"},{"x":63.1,"y":66.05,"g":"All Districts"},{"x":63.9,"y":65.81,"g":"All Districts"},{"x":64.3,"y":64.75,"g":"All Districts"},{"x":65.1,"y":64.6,"g":"All Districts"},{"x":64.9,"y":64.04,"g":"All Districts"},{"x":65.1,"y":63.92,"g":"All Districts"},{"x":65.7,"y":65.58,"g":"All Districts"},{"x":66.1,"y":65.64,"g":"All Districts"},{"x":66.7,"y":65.58,"g":"All Districts"},{"x":66.7,"y":65.4,"g":"All Districts"},{"x":65.8,"y":65.22,"g":"All Districts"},{"x":65.2,"y":65.16,"g":"All Districts"},{"x":66.4,"y":64.15,"g":"All Districts"},{"x":66.7,"y":64.0,"g":"All Districts"},{"x":67.6,"y":64.39,"g":"All Districts"},{"x":66.9,"y":66.02,"g":"All Districts"},{"x":67.3,"y":65.64,"g":"All Districts"},{"x":67.6,"y":65.93,"g":"All Districts"},{"x":66.9,"y":65.04,"g":"All Districts"},{"x":65.2,"y":66.59,"g":"All Districts"},{"x":65.8,"y":66.53,"g":"All Districts"},{"x":66.4,"y":66.41,"g":"All Districts"},{"x":67.3,"y":66.35,"g":"All Districts"},{"x":64,"y":66.88,"g":"All Districts"},{"x":64.9,"y":66.82,"g":"All Districts"},{"x":67.9,"y":65.28,"g":"All Districts"},{"x":68.1,"y":65.34,"g":"All Districts"},{"x":67.8,"y":64.95,"g":"All Districts"},{"x":68.5,"y":64.1,"g":"All Districts"},{"x":68.8,"y":64.06,"g":"All Districts"},{"x":69.3,"y":64.57,"g":"All Districts"},{"x":69.1,"y":65.88,"g":"All Districts"},{"x":69.3,"y":67.0,"g":"All Districts"},{"x":69.3,"y":65.52,"g":"All Districts"},{"x":68.2,"y":66.61,"g":"All Districts"},{"x":70.5,"y":65.7,"g":"All Districts"},{"x":71,"y":64.04,"g":"All Districts"},{"x":71.4,"y":67.42,"g":"All Districts"},{"x":72.3,"y":65.93,"g":"All Districts"},{"x":72.5,"y":66.11,"g":"All Districts"},{"x":73.4,"y":66.44,"g":"All Districts"},{"x":73.4,"y":64.27,"g":"All Districts"},{"x":73.9,"y":64.59,"g":"All Districts"},{"x":75.2,"y":65.22,"g":"All Districts"},{"x":75.8,"y":65.16,"g":"All Districts"},{"x":76.4,"y":65.22,"g":"All Districts"},{"x":76.9,"y":65.2,"g":"All Districts"},{"x":76.7,"y":63.17,"g":"All Districts"},{"x":79,"y":63.6,"g":"All Districts"},{"x":79.4,"y":66.35,"g":"All Districts"},{"x":80.2,"y":66.53,"g":"All Districts"},{"x":79.7,"y":64.59,"g":"All Districts"},{"x":81.5,"y":64.42,"g":"All Districts"},{"x":42,"y":73.7,"g":"All Districts"},{"x":45.8,"y":72.22,"g":"All Districts"},{"x":46.5,"y":72.37,"g":"All Districts"},{"x":48.5,"y":72.22,"g":"All Districts"},{"x":38.2,"y":71.66,"g":"All Districts"},{"x":45,"y":70.32,"g":"All Districts"},{"x":49.1,"y":70.03,"g":"All Districts"},{"x":45.9,"y":69.49,"g":"All Districts"},{"x":45.9,"y":68.98,"g":"All Districts"},{"x":49.2,"y":69.02,"g":"All Districts"},{"x":50.4,"y":69.05,"g":"All Districts"},
{"x":23.1,"y":70.23,"g":"Big Sky/SW"},{"x":28.9,"y":71.8,"g":"Big Sky/SW"},{"x":30.9,"y":68.33,"g":"Big Sky/SW"},{"x":31.4,"y":67.44,"g":"Big Sky/SW"},{"x":33.8,"y":69.93,"g":"Big Sky/SW"},{"x":35.6,"y":68.76,"g":"Big Sky/SW"},{"x":36.3,"y":69.03,"g":"Big Sky/SW"},{"x":36.2,"y":67.93,"g":"Big Sky/SW"},{"x":39,"y":69.4,"g":"Big Sky/SW"},{"x":41,"y":68.25,"g":"Big Sky/SW"},{"x":42.9,"y":68.94,"g":"Big Sky/SW"},{"x":43.8,"y":68.07,"g":"Big Sky/SW"},{"x":45.3,"y":68.3,"g":"Big Sky/SW"},{"x":46.1,"y":66.7,"g":"Big Sky/SW"},{"x":48.9,"y":67.97,"g":"Big Sky/SW"},{"x":49.4,"y":68.0,"g":"Big Sky/SW"},{"x":49.9,"y":68.03,"g":"Big Sky/SW"},{"x":49.2,"y":67.06,"g":"Big Sky/SW"},{"x":50.3,"y":69.23,"g":"Big Sky/SW"},{"x":50.9,"y":66.76,"g":"Big Sky/SW"},{"x":51.5,"y":67.8,"g":"Big Sky/SW"},{"x":54.2,"y":68.88,"g":"Big Sky/SW"},{"x":54.8,"y":67.48,"g":"Big Sky/SW"},{"x":54.8,"y":67.33,"g":"Big Sky/SW"},{"x":55.3,"y":69.47,"g":"Big Sky/SW"},{"x":55.4,"y":67.89,"g":"Big Sky/SW"},{"x":56.2,"y":68.78,"g":"Big Sky/SW"},{"x":56.3,"y":67.65,"g":"Big Sky/SW"},{"x":57.1,"y":67.18,"g":"Big Sky/SW"},{"x":58.2,"y":68.44,"g":"Big Sky/SW"},{"x":59.4,"y":68.59,"g":"Big Sky/SW"},{"x":60.6,"y":67.24,"g":"Big Sky/SW"},{"x":60.6,"y":66.82,"g":"Big Sky/SW"},{"x":61.5,"y":67.56,"g":"Big Sky/SW"},{"x":62.8,"y":69.36,"g":"Big Sky/SW"},{"x":62.8,"y":66.88,"g":"Big Sky/SW"},{"x":63.6,"y":67.48,"g":"Big Sky/SW"},{"x":67.5,"y":67.68,"g":"Big Sky/SW"},{"x":68.2,"y":68.8,"g":"Big Sky/SW"}
],
"congLine":[{"x":3.6,"y":71.59},{"x":81.4,"y":64.86}]
},
"hconcat":[
{
"width":472,"height":345,
"title":{"text":"Preservation Importance vs. Presidential Vote","offset":1},
"layer":[
{"data":{"name":"pres"},"mark":{"type":"point","filled":true,"opacity":1,"strokeWidth":0},
"encoding":{
"x":{"field":"x","type":"quantitative","scale":{"domain":[-90.4,70.6],"nice":false,"zero":false},"axis":{"values":[-80,-60,-40,-20,0,20,40,60],"title":["Trump Margin of Victory","(or Loss), 2020 (% Points)"]}},
"y":{"field":"y","type":"quantitative","scale":{"domain":[62.2,75.35],"nice":false,"zero":false},"axis":{"values":[64,66,68,70,72,74],"title":["Helping to Preserve Nature","is Very Important (%)"]}},
"color":{"field":"g","type":"nominal","scale":{"domain":["All Districts","Big Sky/SW"],"range":["#7f7f7f","#000000"]},"legend":{"title":"R²=0.358"}},
"size":{"field":"g","type":"ordinal","scale":{"domain":["All Districts","Big Sky/SW"],"range":[7,30]},"legend":{"title":"R²=0.358"}}
}},
{"data":{"name":"presLine"},"mark":{"type":"line","color":"#808080","strokeWidth":1.8},
"encoding":{"x":{"field":"x","type":"quantitative"},"y":{"field":"y","type":"quantitative"}}}
]
},
{
"width":472,"height":346,
"title":{"text":"Preservation Importance vs. Congressional Vote","offset":1},
"layer":[
{"data":{"name":"cong"},"mark":{"type":"point","filled":true,"opacity":1,"strokeWidth":0},
"encoding":{
"x":{"field":"x","type":"quantitative","scale":{"domain":[-0.2,85.3],"nice":false,"zero":false},"axis":{"values":[0,10,20,30,40,50,60,70,80],"title":["Votes for Republican Congressional","Candidates (%), 2018"]}},
"y":{"field":"y","type":"quantitative","scale":{"domain":[62.6,74.93],"nice":false,"zero":false},"axis":{"values":[64,66,68,70,72,74],"title":["Helping to Preserve Nature","is Very Important (%)"]}},
"color":{"field":"g","type":"nominal","scale":{"domain":["All Districts","Big Sky/SW"],"range":["#7f7f7f","#000000"]},"legend":{"title":"R²=0.349"}},
"size":{"field":"g","type":"ordinal","scale":{"domain":["All Districts","Big Sky/SW"],"range":[7,30]},"legend":{"title":"R²=0.349"}}
}},
{"data":{"name":"congLine"},"mark":{"type":"line","color":"#808080","strokeWidth":1.8},
"encoding":{"x":{"field":"x","type":"quantitative"},"y":{"field":"y","type":"quantitative"}}}
]
}
],
"resolve":{"scale":{"color":"independent","size":"independent","x":"independent","y":"independent"},"legend":{"color":"independent","size":"independent"}},
"config":{
"view":{"stroke":"#bbbbbb","strokeWidth":1.5},
"title":{"font":"Liberation Sans","fontSize":18,"fontWeight":"normal","color":"#222222","anchor":"middle"},
"axis":{"grid":false,"domainColor":"#bbbbbb","domainWidth":1.5,"tickColor":"#bbbbbb","tickSize":4,"labelFont":"Liberation Serif","labelFontSize":10.5,"labelColor":"#777777","labelPadding":3,"titleFont":"Liberation Sans","titleFontSize":13.5,"titleFontWeight":"normal","titleColor":"#222222","titlePadding":6},
"axisY":{"titlePadding":0,"titleLineHeight":16},
"axisX":{"titleLineHeight":15,"titlePadding":5},
"legend":{"orient":"top-right","offset":5,"padding":6,"strokeColor":"#cccccc","fillColor":"white","cornerRadius":3,"titleAnchor":"middle","titleFont":"Liberation Sans","titleFontSize":10.5,"titleFontWeight":"normal","titleColor":"#333333","labelFont":"Liberation Sans","labelFontSize":10.5,"labelColor":"#222222","labelOffset":12,"rowPadding":3,"titlePadding":4,"symbolStrokeWidth":0}
}
}
